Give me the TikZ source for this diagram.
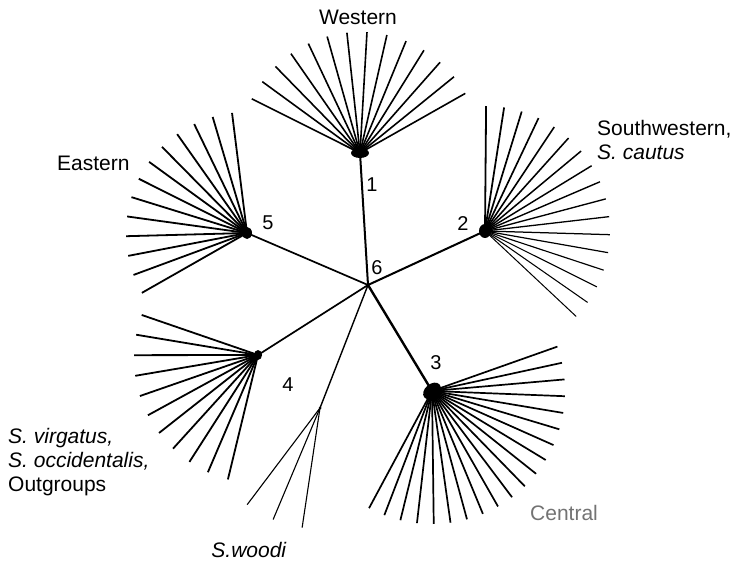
\documentclass[tikz,border=0pt]{standalone}
\usepackage{fontspec}
\setmainfont{Liberation Sans}
\usetikzlibrary{positioning}

\begin{document}
\begin{tikzpicture}[
  x=1pt, y=-1pt,
  branch/.style={line width=1.7pt},
  leaf/.style={line width=1.6pt},
  fineleaf/.style={line width=1.1pt},
  blob/.style={fill=black},
  num/.style={font=\fontsize{20}{22}\selectfont, inner sep=0pt},
  clade/.style={font=\fontsize{21}{24}\selectfont, inner sep=0pt, align=left}
]
\useasboundingbox (0,0) rectangle (735,561);

% hubs
\coordinate (c) at (368,285);
\coordinate (h1) at (360,153);
\coordinate (h2) at (485,231);
\coordinate (h3) at (432,391);
\coordinate (h4) at (258,355);
\coordinate (h5) at (247,233);
\coordinate (hw) at (320,408);

% inner branches
\draw[branch, line width=2pt] (c) -- (h1);
\draw[branch, line width=2pt] (c) -- (h2);
\draw[branch, line width=2.4pt] (c) -- (h3);
\draw[branch] (c) -- (h4);
\draw[branch] (c) -- (h5);
\draw[branch, line width=1.4pt] (c) -- (hw);

% leaves
\foreach \i in {0,...,13}
  \draw[leaf] (h1) -- ++({-153.4+9.53*\i}:121);
\foreach \i in {0,...,16}
  \draw[leaf, line width={1.8pt-0.05pt*\i}] (h2) -- ++({-89.5+8.29*\i}:125);
\foreach \i in {0,...,19}
  \draw[leaf, line width=1.7pt] (h3) -- ++({-19.5+7.25*\i}:133);
\foreach \i in {0,...,12}
  \draw[leaf, line width=1.8pt] (h5) -- ++({-97.1-9.38*\i}:121);
\foreach \i in {0,...,10}
  \draw[leaf, line width=1.8pt] (h4) -- ++({-161-9.54*\i}:{123+0.5*\i});
\foreach \a in {-233,-247.2,-261.5}
  \draw[fineleaf] (hw) -- ++(\a:121);

% blobs
\fill[blob] (h1) ellipse (9 and 5);
\fill[blob] (h2) ellipse (6 and 7);
\fill[blob, rotate around={40:(h3)}] (h3) ellipse (10 and 7);
\fill[blob] (h4) ellipse (4 and 5);
\fill[blob] (h5) ellipse (5 and 6);
\fill[blob] (hw) circle (1.5);
\fill[blob] (c) circle (1.5);

% numbers
\node[num] (n1) at (372,185) {1};
\node[num] (n2) at (463,224) {2};
\node[num] (n3) at (436,363) {3};
\node[num] (n4) at (288,385) {4};
\node[num] (n5) at (268,223) {5};
\node[num] (n6) at (377,268) {6};

% clade names
\node[clade] (west) at (358,17) {Western};
\node[clade, anchor=north west] (swest) at (597,120) {Southwestern,\\\textit{S. cautus}};
\node[clade, anchor=west] (east) at (57,163) {Eastern};
\node[clade, anchor=west, text=black!55] (cent) at (530,513) {Central};
\node[clade] (woodi) at (249,550) {\textit{S.woodi}};
\node[clade, anchor=north west] (outg) at (8,428) {\textit{S. virgatus,}\\\textit{S. occidentalis,}\\Outgroups};

\end{tikzpicture}
\end{document}
